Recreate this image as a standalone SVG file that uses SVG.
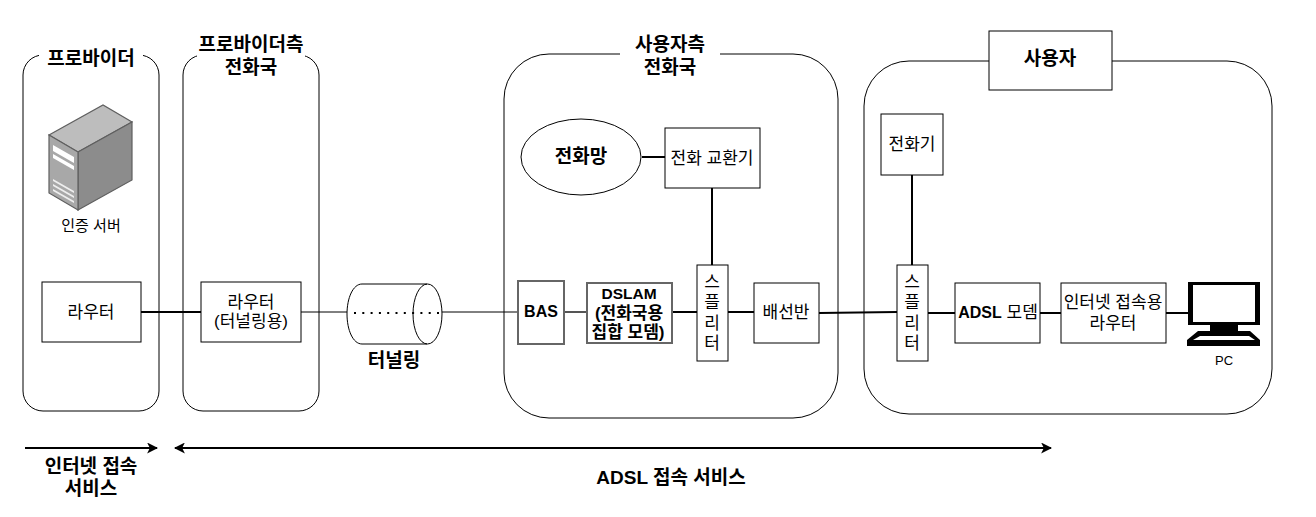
<svg xmlns="http://www.w3.org/2000/svg" width="1316" height="517" viewBox="0 0 1316 517">
<style>
text{font-family:"Liberation Sans","Noto Sans CJK KR",sans-serif;font-size:17px;fill:#000;text-anchor:middle}
.b{font-weight:bold}
.h{font-weight:bold;font-size:19px}
.la{font-size:16px}
.box{fill:#fff;stroke:#000;stroke-width:1}
.gbox{fill:#fff;stroke:#666;stroke-width:2}
.region{fill:#fff;stroke:#000;stroke-width:1}
.c{fill:none;stroke:#000;stroke-width:1}
.t{fill:none;stroke:#000;stroke-width:2}
.dot{fill:none;stroke:#000;stroke-width:2;stroke-dasharray:2 6.3}
</style>
<defs>
<marker id="ah" viewBox="0 0 10 10" refX="9" refY="5" markerWidth="11" markerHeight="11" markerUnits="userSpaceOnUse" orient="auto-start-reverse"><path d="M0 0L10 5L0 10L2.5 5Z" fill="#000"/></marker>
</defs>
<rect width="1316" height="517" fill="#fff"/>
<g id="regions">
<g id="r-provider"><rect class="region" x="23" y="55" width="136" height="356" rx="20"/><rect x="39" y="45" width="104" height="26" fill="#fff"/><text class="h" x="91" y="65">프로바이더</text></g>
<g id="r-provider-office"><rect class="region" x="183" y="55" width="136" height="356" rx="20"/><rect x="197" y="35" width="108" height="44" fill="#fff"/><text class="h" x="251" y="51">프로바이더측</text><text class="h" x="251" y="74">전화국</text></g>
<g id="r-user-office"><rect class="region" x="504" y="54" width="334" height="364" rx="45"/><rect x="620" y="34" width="100" height="44" fill="#fff"/><text class="h" x="670" y="51">사용자측</text><text class="h" x="670" y="74">전화국</text></g>
<g id="r-user"><rect class="region" x="864" y="61" width="408" height="353" rx="45"/><rect class="box" x="989" y="31" width="123" height="59"/><text class="h" x="1050" y="65">사용자</text></g>
</g>
<g id="connectors">
<path class="t" d="M141 312H201"/>
<path class="c" d="M301 312H347M442 312H518"/>
<path d="M564 312H587" fill="none" stroke="#555" stroke-width="2"/>
<path class="t" d="M672 312H697M728 312H754M819 313L897 312M928 313H955M1040 313H1061M1166 313H1188"/>
<path class="t" d="M642 157H665M712 188V265M912 175V265"/>
<path class="t" d="M25 448H157" marker-end="url(#ah)"/>
<path class="t" d="M175 448H1051" marker-start="url(#ah)" marker-end="url(#ah)"/>
</g>
<g id="server">
<path d="M49 135L103 105L132 122L78 152Z" fill="#bdbdbd" stroke="#5f5f5f" stroke-width="1.2"/>
<path d="M78 152L132 122V180L78 210Z" fill="#8c8c8c" stroke="#5f5f5f" stroke-width="1.2"/>
<path d="M49 135L78 152V210L49 193Z" fill="#a8a8a8" stroke="#5f5f5f" stroke-width="1.2"/>
<path d="M53 145L74 157V163L53 151ZM53 154L74 166V170L53 158Z" fill="#fff"/>
<path d="M53 179L74 191V193L53 181ZM53 184L74 196V198L53 186ZM53 189L74 201V203L53 191Z" fill="#eee"/>
<text x="91" y="231" style="font-size:15px">인증 서버</text>
</g>
<g id="n-router1"><rect class="box" x="42" y="282" width="99" height="60"/><text x="91" y="318">라우터</text></g>
<g id="n-router2"><rect class="box" x="201" y="282" width="100" height="60"/><text x="251" y="308">라우터</text><text x="251" y="327">(터널링용)</text></g>
<g id="n-tunnel">
<path class="c" d="M427 284H362C353 284 347 298 347 314C347 330 353 344 362 344H427"/>
<ellipse class="c" cx="427.5" cy="314" rx="14.5" ry="30"/>
<path class="dot" d="M354 313H440"/>
<text class="h" x="394" y="367">터널링</text>
</g>
<g id="n-phone-net"><ellipse class="box" cx="581" cy="157" rx="60" ry="38"/><text class="h" x="581" y="163">전화망</text></g>
<g id="n-switch"><rect class="box" x="665" y="128" width="95" height="60"/><text x="712" y="164">전화 교환기</text></g>
<g id="n-bas"><rect class="gbox" x="518" y="281" width="46" height="63"/><text class="b" x="541" y="317" style="font-size:16px">BAS</text></g>
<g id="n-dslam"><rect class="gbox" x="587" y="283" width="85" height="60"/><text class="b" x="629" y="299" style="font-size:15.5px">DSLAM</text><text class="b" x="629" y="319">(전화국용</text><text class="b" x="628" y="338">집합 모뎀)</text></g>
<g id="n-split1"><rect class="box" x="697" y="265" width="31" height="96"/><text x="712" y="288">스</text><text x="712" y="308">플</text><text x="712" y="329">리</text><text x="712" y="349">터</text></g>
<g id="n-mdf"><rect class="box" x="754" y="283" width="65" height="60"/><text x="786" y="318">배선반</text></g>
<g id="n-phone"><rect class="box" x="881" y="114" width="62" height="61"/><text x="912" y="150">전화기</text></g>
<g id="n-split2"><rect class="box" x="897" y="265" width="31" height="96"/><text x="912" y="288">스</text><text x="912" y="308">플</text><text x="912" y="329">리</text><text x="912" y="349">터</text></g>
<g id="n-modem"><rect class="box" x="955" y="283" width="85" height="60"/><text x="998" y="318"><tspan class="b" style="font-size:16px">ADSL</tspan> 모뎀</text></g>
<g id="n-irouter"><rect class="box" x="1061" y="283" width="105" height="60"/><text x="1113" y="308">인터넷 접속용</text><text x="1113" y="329">라우터</text></g>
<g id="n-pc">
<path d="M1188 282H1260V325H1188Z M1193 285V322H1255V285Z" fill="#000" fill-rule="evenodd" transform="translate(0 0)"/>
<path d="M1210 325H1238V331H1250L1260 340V346H1187V340L1198 331H1210Z" fill="#000"/>
<path d="M1200 336H1249L1255 340H1193Z" fill="#fff"/>
<text x="1224" y="365" style="font-size:13px">PC</text>
</g>
<g id="labels">
<text class="h" x="91" y="473">인터넷 접속</text>
<text class="h" x="91" y="495">서비스</text>
<text class="h" x="671" y="484">ADSL 접속 서비스</text>
</g>
</svg>
